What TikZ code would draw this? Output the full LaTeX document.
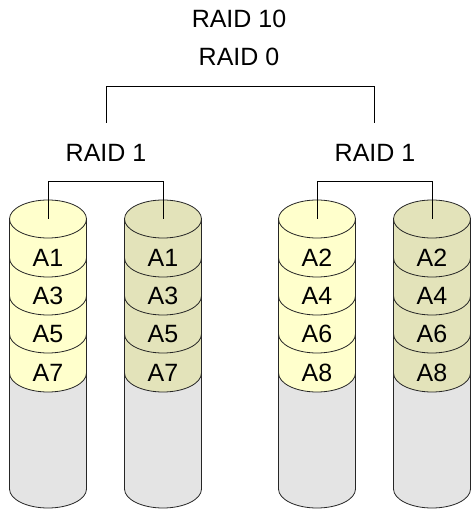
\documentclass[tikz,border=0pt]{standalone}
\usepackage{fontspec}
\setmainfont{Liberation Sans}
\usepackage{xcolor}
\usepackage{tikz}

\definecolor{diskyellow}{RGB}{255,255,204}
\definecolor{diskolive}{RGB}{227,227,186}
\definecolor{diskgray}{RGB}{228,228,228}

\tikzset{
  disklabel/.style={font=\fontsize{25}{30}\selectfont,inner sep=0pt},
  raidlabel/.style={font=\fontsize{25}{30}\selectfont,inner sep=0pt},
  diskline/.style={draw=black!85,line width=0.8pt},
  link/.style={draw=black,line width=0.8pt}
}

\begin{document}
\begin{tikzpicture}[x=1pt,y=1pt]
  \useasboundingbox (0,0) rectangle (476,514);

  \foreach \cx/\col/\nm/\la/\lb/\lc/\ld in
    {48/diskyellow/d1/A1/A3/A5/A7, 163/diskolive/d2/A1/A3/A5/A7,
     317/diskyellow/d3/A2/A4/A6/A8, 432/diskolive/d4/A2/A4/A6/A8}{
    \fill[diskgray] (\cx-38.5,295) -- (\cx-38.5,25)
      arc[start angle=180,end angle=360,x radius=38.5,y radius=19] -- (\cx+38.5,295) -- cycle;
    \fill[\col] (\cx-38.5,295) -- (\cx-38.5,141)
      arc[start angle=180,end angle=360,x radius=38.5,y radius=19] -- (\cx+38.5,295) -- cycle;
    \filldraw[\col,diskline] (\cx,295) ellipse[x radius=38.5,y radius=19];
    \draw[diskline] (\cx-38.5,295) -- (\cx-38.5,25)
      arc[start angle=180,end angle=360,x radius=38.5,y radius=19] -- (\cx+38.5,295);
    \foreach \y in {256,218,180,141}
      \draw[diskline] (\cx-38.5,\y) arc[start angle=180,end angle=360,x radius=38.5,y radius=19];
    \coordinate (\nm) at (\cx,295);
    \node[disklabel] (\nm-1) at (\cx,256) {\la};
    \node[disklabel] (\nm-2) at (\cx,218) {\lb};
    \node[disklabel] (\nm-3) at (\cx,180) {\lc};
    \node[disklabel] (\nm-4) at (\cx,141) {\ld};
  }

  \node[raidlabel] (raid10) at (239,495) {RAID 10};
  \node[raidlabel] (raid0) at (239,457) {RAID 0};
  \node[raidlabel] (mirrorA) at (106,361) {RAID 1};
  \node[raidlabel] (mirrorB) at (375,361) {RAID 1};

  \coordinate (stripeA) at (106,391);
  \coordinate (stripeB) at (374,391);

  \draw[link] (stripeA) -- ++(0,37) -| (stripeB);
  \draw[link] (d1) -- ++(0,38) -| (d2);
  \draw[link] (d3) -- ++(0,38) -| (d4);
\end{tikzpicture}
\end{document}
